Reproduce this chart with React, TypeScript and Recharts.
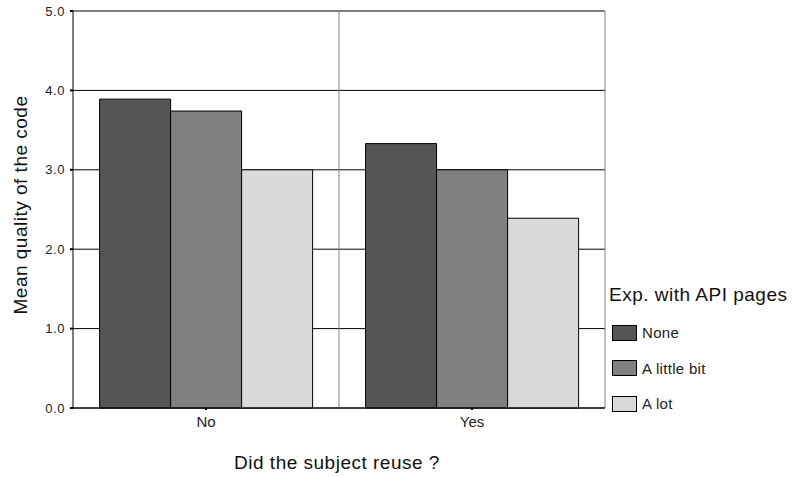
import { BarChart, Bar, XAxis, YAxis, CartesianGrid } from "recharts";

const categories = ["No", "Yes"];
const seriesNames = ["None", "A little bit", "A lot"];
const noneValues = [3.89, 3.33];
const littleValues = [3.74, 3.0];
const lotValues = [3.0, 2.39];
const yTicks = [0, 1, 2, 3, 4, 5];

const COLORS = ["#555555", "#808080", "#d9d9d9"];
const FONT = "'Liberation Sans', Arial, sans-serif";

const data = categories.map((c, i) => ({
  name: c,
  none: noneValues[i],
  little: littleValues[i],
  lot: lotValues[i],
}));
const keys = ["none", "little", "lot"];

export default function App() {
  return (
    <div
      style={{
        position: "absolute",
        left: 0,
        top: 0,
        width: 792,
        height: 477,
        background: "#fff",
        fontFamily: FONT,
      }}
    >
      <BarChart
        width={792}
        height={477}
        data={data}
        margin={{ top: 11, right: 187, bottom: 39, left: 0 }}
        barCategoryGap="10%"
        barGap={0}
      >
        <CartesianGrid vertical={false} stroke="#000" strokeOpacity={1} />
        <CartesianGrid
          horizontal={false}
          stroke="#808080"
          verticalCoordinatesGenerator={({ offset }: any) => [
            offset.left + offset.width / 2,
            offset.left + offset.width,
          ]}
        />
        <XAxis
          dataKey="name"
          height={30}
          axisLine={{ stroke: "#000" }}
          tickLine={{ stroke: "#000", strokeWidth: 2 }}
          tickSize={2}
          tickMargin={6}
          tick={{ fill: "#222", fontSize: 15, fontFamily: FONT }}
        />
        <YAxis
          width={73}
          domain={[0, 5]}
          ticks={yTicks}
          interval={0}
          tickFormatter={(v: number) => v.toFixed(1)}
          axisLine={{ stroke: "#000" }}
          tickLine={{ stroke: "#000", strokeWidth: 2 }}
          tickSize={3}
          tickMargin={5}
          tick={{ fill: "#222", fontSize: 13, fontFamily: FONT, letterSpacing: 0.6 }}
        />
        {keys.map((k, i) => (
          <Bar
            key={k}
            dataKey={k}
            name={seriesNames[i]}
            fill={COLORS[i]}
            stroke="#000"
            strokeWidth={1}
            isAnimationActive={false}
          />
        ))}
      </BarChart>

      <div
        style={{
          position: "absolute",
          left: 21,
          top: 205,
          transform: "translate(-50%, -50%) rotate(-90deg)",
          whiteSpace: "nowrap",
          fontSize: 19,
          letterSpacing: 0.5,
          color: "#111",
        }}
      >
        Mean quality of the code
      </div>
      <div
        style={{
          position: "absolute",
          left: 337,
          top: 463,
          transform: "translate(-50%, -50%)",
          whiteSpace: "nowrap",
          fontSize: 19,
          letterSpacing: 0.5,
          color: "#111",
        }}
      >
        Did the subject reuse ?
      </div>

      <div style={{ position: "absolute", left: 609, top: 284 }}>
        <div style={{ fontSize: 19, letterSpacing: 0.5, color: "#111", whiteSpace: "nowrap" }}>
          Exp. with API pages
        </div>
        {seriesNames.map((s, i) => (
          <div
            key={s}
            style={{
              position: "absolute",
              left: 3,
              top: 40 + i * 35.5,
              display: "flex",
              alignItems: "center",
              whiteSpace: "nowrap",
            }}
          >
            <div
              style={{
                width: 23,
                height: 14,
                background: COLORS[i],
                border: "1px solid #000",
              }}
            />
            <span style={{ marginLeft: 5, fontSize: 15, letterSpacing: 0.3, color: "#222" }}>
              {s}
            </span>
          </div>
        ))}
      </div>
    </div>
  );
}
